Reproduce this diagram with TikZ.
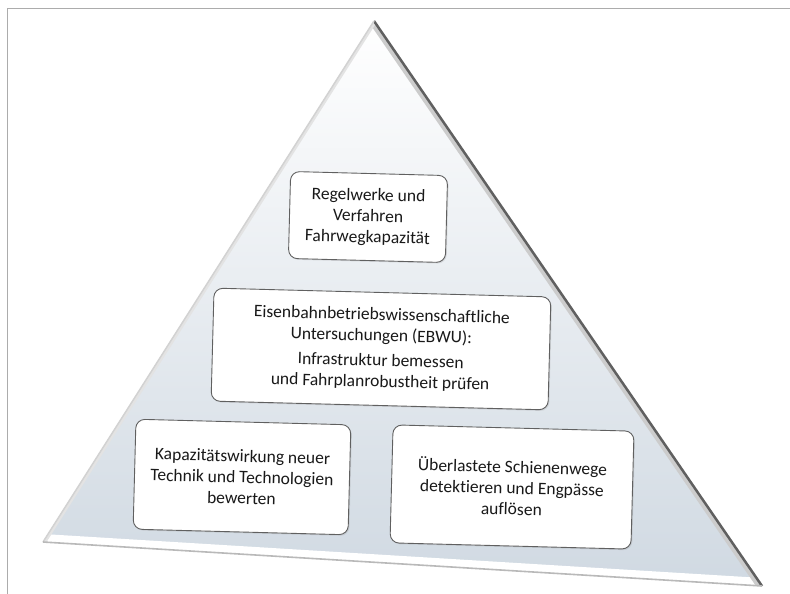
\documentclass[tikz,border=0pt]{standalone}
\usepackage{fontspec}
\setmainfont{Carlito}[Ligatures=NoCommon]
\usetikzlibrary{shadows}
\definecolor{pyr_blue}{RGB}{208,217,226}
\definecolor{pyr_text}{RGB}{25,25,25}
\begin{document}
\begin{tikzpicture}[x=1pt, y=-1pt, line join=round]
    \tikzstyle{box_style} = [draw=gray!75!black, fill=white, rounded corners=9pt, line width=0.9pt, align=center, rotate=-1.5, text=pyr_text, font=\fontsize{17.5}{21}\selectfont, drop shadow={opacity=0.2, shadow xshift=1.2pt, shadow yshift=-1.2pt}]
    \useasboundingbox (0,0) rectangle (790,594);
    \draw[gray!65, line width=1pt] (7,594) -- (7,9) -- (790,9);

    \coordinate (tri_top) at (374,21);
    \coordinate (tri_left) at (43,542);
    \coordinate (tri_right) at (762,586);

    % pyramid body
    \fill[top color=white, bottom color=pyr_blue] (tri_top) -- (tri_left) -- (tri_right) -- cycle;
    \begin{scope}
        \clip (tri_top) -- (tri_left) -- (tri_right) -- cycle;
        \draw[white, line width=16pt] (tri_left) -- (tri_right);
        \draw[gray!40, line width=10pt] (tri_top) -- (tri_right);
        \draw[gray!22, line width=6pt] (tri_top) -- (tri_left);
    \end{scope}
    \draw[gray!75!black, line width=2.5pt] (tri_top) -- (tri_right);
    \draw[gray!35, line width=1.5pt] (tri_top) -- (tri_left);
    \draw[gray!55, line width=1.6pt] (tri_left) -- (tri_right);

    \node[box_style, minimum width=157, minimum height=87] (regel) at (368,217) {Regelwerke und\\Verfahren\\Fahrwegkapazität};
    \node[box_style, minimum width=337, minimum height=113] (ebwu) at (381,349) {Eisenbahnbetriebswissenschaftliche\\Untersuchungen (EBWU):\\[4pt]Infrastruktur bemessen\\und Fahrplanrobustheit prüfen};
    \node[box_style, minimum width=215, minimum height=110] (technik) at (242,477) {Kapazitätswirkung neuer\\Technik und Technologien\\bewerten};
    \node[box_style, minimum width=241, minimum height=118] (engpass) at (512,487) {Überlastete Schienenwege\\detektieren und Engpässe\\auflösen};
\end{tikzpicture}
\end{document}
